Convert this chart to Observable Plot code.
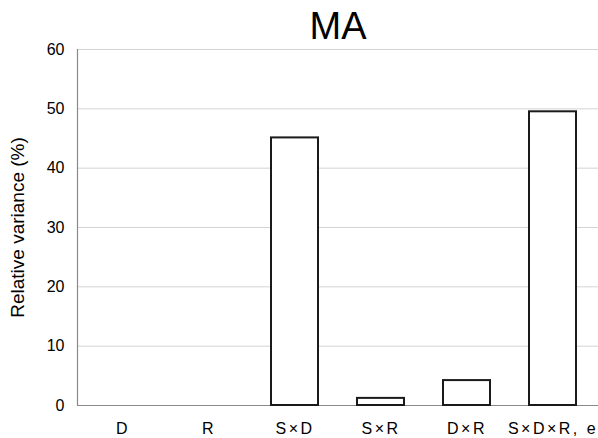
<!DOCTYPE html>
<html>
<head>
<meta charset="utf-8">
<script src="https://cdn.jsdelivr.net/npm/d3@7"></script>
<script src="https://cdn.jsdelivr.net/npm/@observablehq/plot@0.6"></script>
<style>
  html, body { margin: 0; padding: 0; background: #fff; }
  #chart svg { display: block; }
</style>
</head>
<body>
<div id="chart"></div>
<script>
// Variance components (share of total variance, %)
const categories = ["D", "R", "S×D", "S×R", "D×R", "S×D×R, e"];
const variance = [0, 0, 45.1, 1.2, 4.2, 49.5];
const yTicks = [0, 10, 20, 30, 40, 50, 60];
const title = "MA";
const yLabel = "Relative variance (%)";

const data = categories.map((category, i) => ({category, value: variance[i]}));

const chart = Plot.plot({
  width: 598,
  height: 438,
  marginLeft: 77,
  marginRight: 0,
  marginTop: 49,
  marginBottom: 33,
  style: {
    fontFamily: "'Liberation Sans', Arial, Helvetica, sans-serif",
    fontSize: "16px",
    color: "#000",
    background: "#fff"
  },
  x: {domain: categories, paddingInner: 0.45, paddingOuter: 0.225, label: null},
  y: {domain: [0, 60], ticks: yTicks, label: yLabel},
  marks: [
    Plot.gridY(yTicks, {stroke: "#d4d4d4", strokeOpacity: 1, strokeWidth: 1}),
    // tick values
    Plot.axisY(yTicks, {
      tickSize: 0,
      tickPadding: 13,
      fontSize: 16,
      fill: "#000",
      label: null
    }),
    // rotated axis title
    Plot.axisY({
      ticks: [],
      label: yLabel,
      labelAnchor: "center",
      labelArrow: "none",
      labelOffset: 67,
      fontSize: 19
    }),
    Plot.axisX({tickSize: 0, tickPadding: 17, fontSize: 16, fill: "#000"}),
    Plot.frame({anchor: "left", stroke: "#8a8a8a", strokeWidth: 1.2}),
    Plot.ruleY([0], {stroke: "#8a8a8a", strokeWidth: 1.2}),
    Plot.barY(data, {
      x: "category",
      y: "value",
      filter: (d) => d.value > 0,
      fill: "#fff",
      stroke: "#1a1a1a",
      strokeWidth: 2
    }),
    Plot.text([title], {frameAnchor: "top", dy: -37, fontSize: 38, fill: "#000"})
  ]
});

// widen the interaction labels slightly
d3.select(chart).selectAll('[aria-label="x-axis tick label"] text').style("letter-spacing", "2.5px");

document.getElementById("chart").append(chart);
</script>
</body>
</html>
